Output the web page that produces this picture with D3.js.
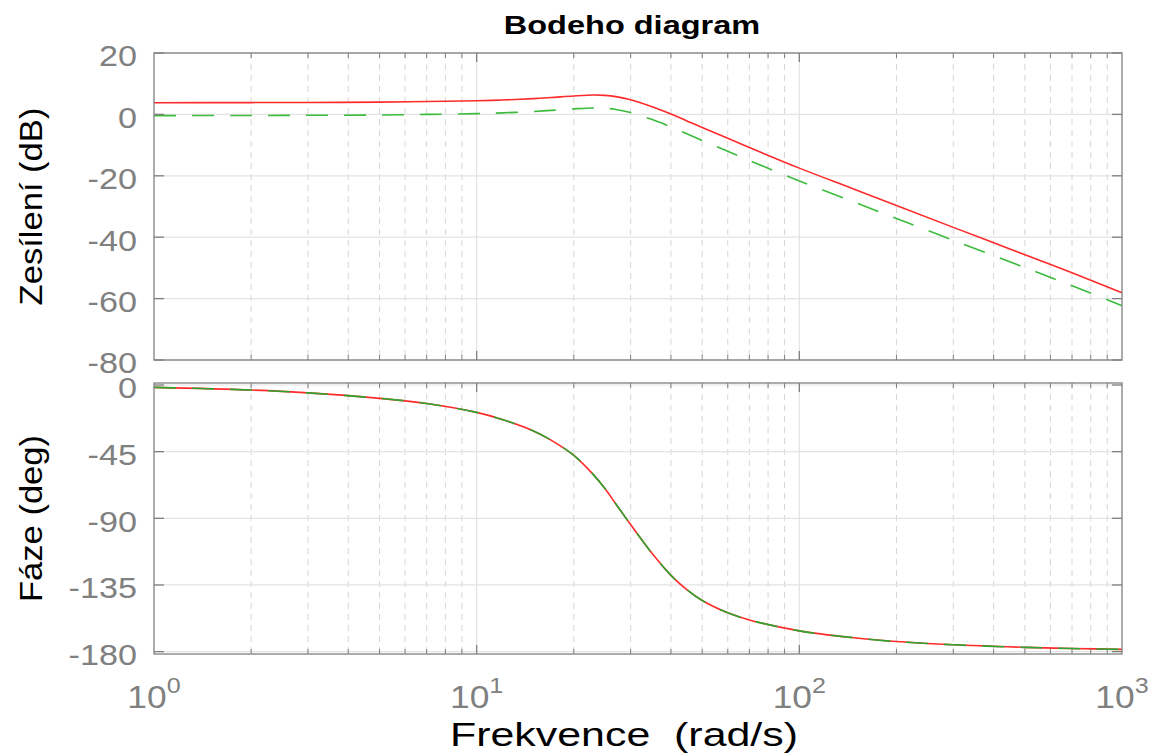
<!DOCTYPE html>
<html>
<head>
<meta charset="utf-8">
<script src="https://cdn.jsdelivr.net/npm/d3@7"></script>
<style>
  html, body { margin: 0; padding: 0; background: #fff; }
  svg text { font-family: "Liberation Sans", Arial, Helvetica, sans-serif; }
</style>
</head>
<body>
<svg id="chart" width="1155" height="755"></svg>
<script>
// Bode plot, two systems: red solid and green dashed

const freqs      = [1, 2, 3, 5, 7, 10, 12, 15, 17, 20, 23, 25, 27, 30, 35, 40, 45, 50, 60, 70, 100, 150, 200, 300, 500, 700, 1000];
const magRed     = [3.8, 3.85, 3.9, 4.0, 4.2, 4.45, 4.7, 5.15, 5.5, 6.0, 6.3, 6.2, 5.8, 4.8, 2.5, 0.1, -2.2, -4.3, -7.8, -10.8, -17.5, -24.6, -29.7, -36.8, -45.7, -51.6, -58.1];
const magGreen   = [-0.4, -0.35, -0.3, -0.2, 0.0, 0.25, 0.5, 0.95, 1.3, 1.8, 2.1, 2.0, 1.6, 0.6, -1.7, -4.1, -6.4, -8.5, -12.0, -15.0, -21.7, -28.8, -33.9, -41.0, -49.9, -55.8, -62.3];
const phaseRed   = [-1.6, -3.4, -5.3, -9, -12.5, -18.5, -23.3, -31, -37.2, -47.5, -60.5, -70, -80.3, -94.2, -113.8, -128.5, -138.5, -145.5, -153.8, -158.6, -166, -170.8, -173.2, -175.4, -177.1, -177.9, -178.5];
const phaseGreen = phaseRed.slice();

const magTicks   = [20, 0, -20, -40, -60, -80];
const phaseTicks = [0, -45, -90, -135, -180];
const decades    = [1, 10, 100, 1000];

const svg = d3.select('#chart');

const x = d3.scaleLog().domain([1, 1000]).range([154, 1122]);
const yMag = d3.scaleLinear().domain([-80, 20]).range([360, 53]);
const yPh  = d3.scaleLinear().domain([-181.6, 1.35]).range([654, 383]);

const axisColor = '#808080';
const gridColor = '#e3e3e3';
const minorGridColor = '#d6d6d6';

// minor frequencies 2..9 per decade
const minors = [];
[1, 10, 100].forEach(d => { for (let k = 2; k <= 9; k++) minors.push(d * k); });

function drawPanel(y, ticks, seriesList) {
  const [y1, y0] = y.range(); // bottom, top
  const [x0, x1] = x.range();
  const g = svg.append('g');

  // minor vertical grid, dashed
  g.selectAll('line.minor').data(minors).enter().append('line')
    .attr('x1', d => x(d)).attr('x2', d => x(d))
    .attr('y1', y0).attr('y2', y1)
    .attr('stroke', minorGridColor).attr('stroke-dasharray', '6,5');
  // major vertical grid
  g.selectAll('line.major').data([10, 100]).enter().append('line')
    .attr('x1', d => x(d)).attr('x2', d => x(d))
    .attr('y1', y0).attr('y2', y1)
    .attr('stroke', gridColor).attr('stroke-width', 1.2);
  // horizontal grid
  g.selectAll('line.h').data(ticks).enter().append('line')
    .attr('x1', x0).attr('x2', x1)
    .attr('y1', d => y(d)).attr('y2', d => y(d))
    .attr('stroke', gridColor).attr('stroke-width', 1.2);

  // curves, smooth through the read points
  const line = d3.line()
    .x((d, i) => x(freqs[i]))
    .y(d => y(d))
    .curve(d3.curveCatmullRom.alpha(0.5));
  seriesList.forEach(s => {
    g.append('path')
      .attr('d', line(s.values))
      .attr('fill', 'none')
      .attr('stroke', s.color)
      .attr('stroke-width', 1.6)
      .attr('stroke-dasharray', s.dash || null);
  });

  // box
  g.append('rect')
    .attr('x', x0).attr('y', y0)
    .attr('width', x1 - x0).attr('height', y1 - y0)
    .attr('fill', 'none').attr('stroke', axisColor).attr('stroke-width', 1.3);

  // y ticks inside, left and right
  ticks.forEach(t => {
    g.append('line').attr('x1', x0).attr('x2', x0 + 10)
      .attr('y1', y(t)).attr('y2', y(t)).attr('stroke', axisColor).attr('stroke-width', 1.3);
    g.append('line').attr('x1', x1).attr('x2', x1 - 10)
      .attr('y1', y(t)).attr('y2', y(t)).attr('stroke', axisColor).attr('stroke-width', 1.3);
  });
  // x ticks inside, top and bottom
  minors.forEach(f => {
    g.append('line').attr('x1', x(f)).attr('x2', x(f))
      .attr('y1', y1).attr('y2', y1 - 5).attr('stroke', axisColor);
    g.append('line').attr('x1', x(f)).attr('x2', x(f))
      .attr('y1', y0).attr('y2', y0 + 5).attr('stroke', axisColor);
  });
  [10, 100].forEach(f => {
    g.append('line').attr('x1', x(f)).attr('x2', x(f))
      .attr('y1', y1).attr('y2', y1 - 9).attr('stroke', axisColor).attr('stroke-width', 1.3);
    g.append('line').attr('x1', x(f)).attr('x2', x(f))
      .attr('y1', y0).attr('y2', y0 + 9).attr('stroke', axisColor).attr('stroke-width', 1.3);
  });

  // tick labels, sitting a little below their tick like the original
  g.selectAll('text.yt').data(ticks).enter().append('text')
    .attr('x', 137).attr('y', d => y(d) + 13.5)
    .attr('text-anchor', 'end')
    .attr('font-size', 30)
    .attr('fill', axisColor)
    .attr('transform', 'translate(137,0) scale(1.14,1) translate(-137,0)')
    .text(d => d);
}

drawPanel(yMag, magTicks, [
  { values: magRed, color: '#ff2b2b' },
  { values: magGreen, color: '#3dbb3d', dash: '22,16' }
]);
drawPanel(yPh, phaseTicks, [
  { values: phaseRed, color: '#ff2b2b' },
  { values: phaseGreen, color: '#2ea52e', dash: '22,16' }
]);

// x tick labels 10^n
decades.forEach((d, i) => {
  const t = svg.append('text')
    .attr('x', x(d)).attr('y', 708)
    .attr('text-anchor', 'middle')
    .attr('font-size', 31)
    .attr('fill', axisColor)
    .attr('transform', `translate(${x(d)},0) scale(1.14,1) translate(${-x(d)},0)`);
  t.append('tspan').text('10');
  t.append('tspan').attr('font-size', 22).attr('dy', -15).text(i);
});

// titles
svg.append('text')
  .attr('x', 632).attr('y', 34)
  .attr('text-anchor', 'middle')
  .attr('font-size', 26).attr('font-weight', 'bold')
  .attr('transform', 'translate(632,0) scale(1.25,1) translate(-632,0)')
  .text('Bodeho diagram');

svg.append('text')
  .attr('x', 624).attr('y', 746)
  .attr('text-anchor', 'middle')
  .attr('font-size', 33)
  .attr('xml:space', 'preserve')
  .style('white-space', 'pre')
  .attr('transform', 'translate(624,0) scale(1.3,1) translate(-624,0)')
  .text('Frekvence  (rad/s)');

svg.append('text')
  .attr('transform', `translate(42,${(53 + 360) / 2}) rotate(-90) scale(1.08,1)`)
  .attr('text-anchor', 'middle')
  .attr('font-size', 32)
  .text('Zesílení (dB)');

svg.append('text')
  .attr('transform', `translate(42,${(383 + 654) / 2}) rotate(-90) scale(1.08,1)`)
  .attr('text-anchor', 'middle')
  .attr('font-size', 32)
  .text('Fáze (deg)');
</script>
</body>
</html>
